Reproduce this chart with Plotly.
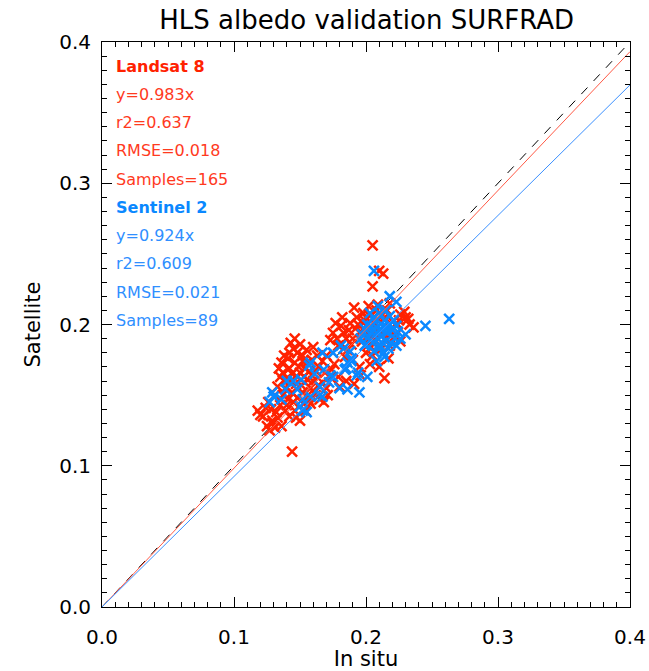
import plotly.graph_objects as go

# ---- data ----
landsat_x = [0.143,0.145,0.148,0.136,0.142,0.146,0.137,0.135,0.140,0.150,0.154,0.147,0.139,0.144,0.156,0.159,0.158,0.161,0.164,0.152,
             0.148,0.141,0.131,0.126,0.118,0.124,0.122,0.129,0.129,0.127,0.133,0.142,0.150,0.154,0.146,0.139,0.135,0.144,0.158,0.165,
             0.169,0.164,0.159,0.152,0.173,0.167,0.180,0.177,0.194,0.198,0.175,0.183,0.173,0.190,0.179,0.186,0.203,0.214,0.196,0.191,
             0.202,0.198,0.226,0.230,0.229,0.232,0.236,0.205,0.210,0.213,0.205,0.203,0.207,0.209,0.214,0.220,0.202,0.207,0.218,0.211,
             0.222,0.205,0.217,0.138,0.141,0.149,0.153,0.143,0.151,0.156,0.145,0.137,0.133,0.160,0.162,0.155,0.148,0.142,0.134,0.157,
             0.140,0.132,0.147,0.153,0.128,0.120,0.125,0.170,0.167,0.150,0.146,0.155,0.185,0.192,0.199,0.203,0.208,0.212,0.216,0.225,
             0.219,0.211,0.204,0.197,0.188,0.182,0.178,0.233,0.214,0.209,0.218,0.200,0.190,0.195,0.210,0.215,0.171,0.136,0.131,0.157,
             0.144,0.138,0.152,0.162,0.174,0.160,0.179,0.185,0.170,0.176,0.184,0.189,0.181,0.187,0.193,0.200,0.196,0.163,0.168,0.191,
             0.226,0.224,0.212,0.206,0.201]
landsat_y = [0.187,0.183,0.180,0.173,0.169,0.173,0.166,0.163,0.162,0.166,0.169,0.158,0.155,0.152,0.161,0.164,0.155,0.152,0.157,0.152,
             0.148,0.147,0.150,0.145,0.139,0.141,0.135,0.132,0.130,0.125,0.134,0.135,0.132,0.139,0.139,0.139,0.143,0.110,0.144,0.147,
             0.166,0.170,0.175,0.178,0.163,0.159,0.156,0.201,0.200,0.201,0.194,0.194,0.189,0.190,0.185,0.182,0.172,0.162,0.164,0.212,
             0.213,0.208,0.207,0.205,0.209,0.204,0.198,0.256,0.238,0.236,0.227,0.196,0.200,0.203,0.205,0.202,0.190,0.189,0.185,0.182,
             0.192,0.178,0.176,0.178,0.176,0.170,0.163,0.160,0.157,0.150,0.145,0.150,0.156,0.160,0.167,0.173,0.163,0.180,0.169,0.146,
             0.143,0.138,0.134,0.144,0.140,0.136,0.128,0.155,0.174,0.186,0.190,0.182,0.190,0.197,0.203,0.206,0.210,0.207,0.210,0.203,
             0.197,0.193,0.184,0.188,0.201,0.205,0.190,0.200,0.199,0.214,0.215,0.180,0.175,0.170,0.170,0.190,0.150,0.128,0.127,0.167,
             0.165,0.160,0.174,0.150,0.168,0.184,0.163,0.160,0.178,0.172,0.177,0.186,0.199,0.196,0.205,0.205,0.195,0.178,0.145,0.158,
             0.188,0.200,0.195,0.193,0.185]

sentinel_x = [0.206,0.210,0.214,0.218,0.208,0.212,0.216,0.204,0.201,0.220,0.222,0.215,0.209,0.205,0.211,0.217,0.223,0.202,0.213,0.207,
              0.199,0.221,0.224,0.215,0.209,0.203,0.197,0.219,0.213,0.206,0.226,0.200,0.212,0.218,0.208,0.216,0.210,0.223,0.204,0.214,
              0.206,0.218,0.223,0.245,0.263,0.230,0.189,0.193,0.201,0.186,0.195,0.180,0.173,0.167,0.185,0.208,0.167,0.175,0.183,0.188,
              0.186,0.175,0.158,0.165,0.152,0.157,0.168,0.151,0.139,0.129,0.130,0.136,0.148,0.152,0.150,0.155,0.158,0.165,0.181,0.189,
              0.184,0.194,0.172,0.127,0.145,0.196,0.199,0.161,0.140]
sentinel_y = [0.205,0.208,0.203,0.200,0.198,0.196,0.194,0.195,0.200,0.196,0.190,0.188,0.190,0.187,0.184,0.183,0.185,0.191,0.199,0.202,
              0.197,0.203,0.195,0.210,0.213,0.208,0.193,0.187,0.180,0.181,0.190,0.186,0.192,0.206,0.194,0.198,0.186,0.199,0.199,0.177,
              0.238,0.220,0.216,0.199,0.204,0.193,0.174,0.164,0.163,0.154,0.152,0.155,0.164,0.149,0.169,0.174,0.180,0.180,0.183,0.181,
              0.173,0.163,0.173,0.156,0.139,0.171,0.168,0.161,0.154,0.152,0.149,0.147,0.154,0.147,0.142,0.138,0.149,0.150,0.185,0.176,
              0.168,0.166,0.159,0.145,0.160,0.190,0.185,0.165,0.160]

landsat_slope = 0.983
sentinel_slope = 0.924
axis_range = [0.0, 0.4]
tick_vals = [0.0, 0.1, 0.2, 0.3, 0.4]
tick_text = ["0.0", "0.1", "0.2", "0.3", "0.4"]

landsat_lines = ["<b>Landsat 8</b>", "y=0.983x", "r2=0.637", "RMSE=0.018", "Samples=165"]
sentinel_lines = ["<b>Sentinel 2</b>", "y=0.924x", "r2=0.609", "RMSE=0.021", "Samples=89"]

RED = "#FF2200"
RED_TXT = "#FF3A1E"
BLUE = "#0A88FF"
BLUE_TXT = "#2F8FFF"
FONT = "DejaVu Sans"

fig = go.Figure()

# 1:1 line
fig.add_trace(go.Scatter(x=axis_range, y=axis_range, mode="lines",
                         line=dict(color="black", width=1, dash="dash"), showlegend=False, hoverinfo="skip"))

fig.add_trace(go.Scatter(x=landsat_x, y=landsat_y, mode="markers",
                         marker=dict(symbol="x-thin", size=10, line=dict(color=RED, width=2.5), color=RED),
                         showlegend=False))
fig.add_trace(go.Scatter(x=sentinel_x, y=sentinel_y, mode="markers",
                         marker=dict(symbol="x-thin", size=10, line=dict(color=BLUE, width=2.5), color=BLUE),
                         showlegend=False))

fig.add_trace(go.Scatter(x=axis_range, y=[v * landsat_slope for v in axis_range], mode="lines",
                         line=dict(color="#FF5A46", width=1), showlegend=False, hoverinfo="skip"))
fig.add_trace(go.Scatter(x=axis_range, y=[v * sentinel_slope for v in axis_range], mode="lines",
                         line=dict(color="#3A90FF", width=1), showlegend=False, hoverinfo="skip"))

annotations = []
y0 = 0.383
step = 0.02
for i, t in enumerate(landsat_lines + sentinel_lines):
    col = RED if i == 0 else (RED_TXT if i < 5 else (BLUE if i == 5 else BLUE_TXT))
    annotations.append(dict(x=0.009, y=y0 - i * step, xref="x", yref="y", text=t, showarrow=False,
                            xanchor="left", yanchor="middle", font=dict(family=FONT, size=16, color=col)))

axis_common = dict(range=axis_range, tickvals=tick_vals, ticktext=tick_text, ticks="inside", ticklen=10,
                   tickwidth=1, tickcolor="black", showline=True, linecolor="black", linewidth=1, mirror="ticks",
                   showgrid=False, zeroline=False, automargin=False,
                   tickfont=dict(family=FONT, size=20, color="black"),
                   minor=dict(dtick=0.01, ticks="inside", ticklen=5, tickcolor="black", tickwidth=1, showgrid=False))

fig.update_layout(
    width=649, height=671,
    margin=dict(l=102, r=19, t=42, b=64, autoexpand=False),
    paper_bgcolor="white", plot_bgcolor="white",
    title=dict(text="HLS albedo validation SURFRAD", x=0.565, xanchor="center", y=0.97, yanchor="middle",
               font=dict(family=FONT, size=26, color="black")),
    xaxis=dict(axis_common, ticklabelstandoff=12,
               title=dict(text="In situ", font=dict(family=FONT, size=21, color="black"), standoff=4)),
    yaxis=dict(axis_common, ticklabelstandoff=6,
               title=dict(text="Satellite", font=dict(family=FONT, size=21, color="black"), standoff=12)),
    annotations=annotations,
)

fig.write_html("out.html")
